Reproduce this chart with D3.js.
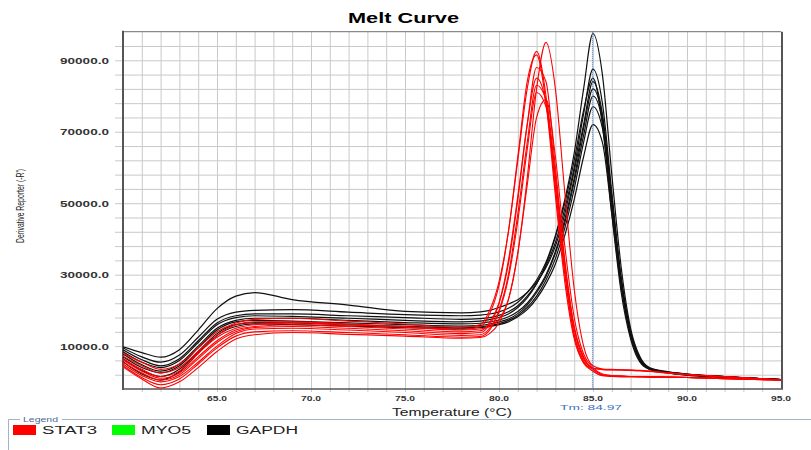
<!DOCTYPE html>
<html>
<head>
<meta charset="utf-8">
<script src="https://cdn.jsdelivr.net/npm/d3@7"></script>
<style>
  body { margin: 0; background: #fff; }
  text { font-family: "Liberation Sans", Arial, sans-serif; }
</style>
</head>
<body>
<svg id="chart" width="811" height="450"></svg>
<script>
// temperatures (°C) shared by every melt curve
const temps = [60, 61, 62, 63, 64, 65, 66, 67, 69, 72, 75, 78, 79, 79.5, 80, 80.5, 81, 81.5, 82, 82.5,
  83, 83.5, 84, 84.5, 85, 85.5, 86, 86.5, 87, 87.5, 88, 89, 90, 92, 95];

// STAT3 wells (-R')
const stat3A = [6500, 3500, 1500, 3000, 8000, 12500, 15000, 16000, 16500, 16000, 15300, 14500, 14800, 15500, 17500, 23000, 36000, 57000, 82000, 95000,
  82000, 53000, 26000, 10000, 4500, 3600, 3500, 3400, 3300, 3200, 3000, 2500, 2100, 1500, 600];
const stat3B = [8000, 5500, 3500, 5000, 9500, 14000, 16500, 17500, 17800, 17000, 16200, 15200, 16000, 20000, 28000, 42000, 62000, 82000, 92500, 80000,
  54000, 30000, 13000, 5500, 3500, 2000, 1700, 1600, 1500, 1500, 1500, 1400, 1300, 1000, 500];
const stat3C = [7200, 4500, 2500, 4000, 8500, 13000, 16000, 16800, 16800, 16200, 15500, 14600, 15400, 19000, 27000, 42000, 63000, 84000, 91500, 78000,
  52000, 28000, 12000, 5200, 3000, 1800, 1600, 1500, 1500, 1400, 1400, 1300, 1200, 1000, 500];
const stat3D = [6100, 3000, 1000, 2500, 7000, 11500, 14500, 15500, 16000, 15500, 14800, 14000, 14300, 16500, 22000, 33000, 51000, 72000, 88000, 84000,
  60000, 34000, 15000, 6500, 3800, 3400, 3300, 3300, 3200, 3100, 3000, 2500, 2000, 1400, 500];
const stat3E = [5500, 2500, 500, 2000, 6500, 11000, 14000, 15200, 15500, 15000, 14300, 13500, 13800, 16000, 22000, 34000, 52000, 72000, 85000, 78000,
  55000, 31000, 13500, 5800, 3000, 1700, 1500, 1400, 1400, 1400, 1300, 1300, 1200, 900, 500];
const stat3F = [5000, 1800, 0, 1500, 5500, 10000, 13500, 14800, 15000, 14500, 13800, 13000, 13200, 15000, 20000, 30000, 47000, 67000, 83000, 79000,
  58000, 33000, 15000, 6500, 3500, 2000, 1700, 1600, 1500, 1500, 1400, 1300, 1200, 900, 500];
const stat3G = [4500, 1200, -800, 800, 5000, 9500, 12800, 14000, 14300, 13800, 13200, 12500, 12700, 14500, 19500, 29000, 45000, 65000, 81000, 77000,
  57000, 33000, 15500, 7000, 3800, 3500, 3400, 3300, 3200, 3100, 2900, 2400, 2000, 1400, 500];
const stat3H = [4200, 800, -1700, 0, 4000, 8500, 12000, 13200, 13800, 13300, 12800, 12200, 12400, 13500, 16500, 23000, 36000, 55000, 74000, 79000,
  63000, 38000, 18000, 7800, 4000, 2200, 1800, 1600, 1500, 1500, 1400, 1300, 1200, 900, 500];

// GAPDH wells (-R')
const gapdhA = [9800, 8200, 6900, 9000, 14500, 20500, 24000, 25000, 23000, 21500, 19700, 19300, 19600, 20000, 20800, 21800, 23000, 25000, 28000, 32000,
  38000, 47000, 59000, 72000, 84000, 75000, 52000, 29000, 14000, 6500, 3800, 2700, 2200, 1500, 600];
const gapdhB = [9500, 7000, 5500, 7500, 12500, 17500, 19500, 20000, 20200, 19500, 18800, 18500, 18700, 19000, 19600, 20600, 22300, 25000, 28500, 33500,
  41000, 51000, 64000, 82000, 97500, 86000, 58000, 32000, 15000, 7000, 4000, 2800, 2200, 1500, 600];
const gapdhC = [9000, 6200, 4500, 6500, 11500, 16500, 18500, 19000, 19000, 18500, 18000, 17500, 17700, 18000, 18600, 19600, 21300, 24000, 27500, 32500,
  39000, 48500, 60000, 75000, 87500, 78000, 53000, 29000, 14000, 6500, 3800, 2700, 2100, 1400, 600];
const gapdhD = [8400, 5500, 4000, 6000, 11000, 16000, 18000, 18500, 18300, 17800, 17200, 16800, 17000, 17400, 18000, 19000, 20800, 23500, 27500, 33000,
  40500, 50000, 62000, 76000, 85000, 72000, 47000, 25000, 12000, 5500, 3500, 2600, 2000, 1400, 600];
const gapdhE = [7800, 4800, 3000, 5000, 10000, 15000, 17200, 17800, 17800, 17200, 16600, 16200, 16400, 16800, 17300, 18200, 19700, 22000, 25500, 30000,
  36500, 45500, 57000, 71000, 82000, 74000, 51000, 28000, 13500, 6200, 3700, 2600, 2000, 1400, 600];
const gapdhF = [7000, 4000, 2500, 4500, 9500, 14500, 16800, 17200, 17000, 16500, 16000, 15600, 15800, 16200, 16800, 17600, 19100, 21500, 25000, 29500,
  36000, 44500, 56000, 69000, 80000, 73000, 50000, 28000, 13500, 6300, 3700, 2600, 2000, 1400, 600];
const gapdhG = [6500, 3200, 1500, 3500, 8500, 13500, 16000, 16600, 16500, 16000, 15500, 15200, 15400, 15800, 16300, 17200, 18600, 20800, 24000, 28500,
  34500, 43000, 54000, 67000, 77000, 71000, 49000, 27500, 13000, 6000, 3600, 2500, 1900, 1300, 600];
const gapdhH = [5600, 2200, 500, 2800, 8000, 13000, 15500, 16200, 16000, 15600, 15200, 15000, 15200, 15500, 16000, 16800, 18200, 20200, 23300, 27500,
  33000, 41000, 51000, 63000, 72000, 67000, 47000, 26500, 12800, 6000, 3600, 2500, 1900, 1300, 600];

const stat3Curves = [stat3A, stat3B, stat3C, stat3D, stat3E, stat3F, stat3G, stat3H];
const gapdhCurves = [gapdhA, gapdhB, gapdhC, gapdhD, gapdhE, gapdhF, gapdhG, gapdhH];

const xLabelTicks = [65, 70, 75, 80, 85, 90, 95];
const yLabelTicks = [10000, 30000, 50000, 70000, 90000];
const tm = 84.97;
const legendNames = ['STAT3', 'MYO5', 'GAPDH'];
const legendColors = ['#ff0000', '#00ff00', '#000000'];

const svg = d3.select('#chart');
const plotLeft = 123, plotRight = 781, plotTop = 31.7, plotBottom = 389;

const x = d3.scaleLinear().domain([60, 95]).range([plotLeft, plotRight]);
const y = d3.scaleLinear().domain([-2000, 98000]).range([plotBottom, plotTop]);

// title
svg.append('text')
  .attr('x', 348).attr('y', 23)
  .attr('font-size', 15).attr('font-weight', 'bold')
  .attr('textLength', 111).attr('lengthAdjust', 'spacingAndGlyphs')
  .attr('fill', '#000')
  .text('Melt Curve');

// vertical grid, one line per degree, ticks poke below the axis
const xGrid = svg.append('g')
  .attr('transform', `translate(0,${plotBottom})`)
  .call(d3.axisBottom(x).tickValues(d3.range(61, 95)).tickSizeOuter(0).tickFormat(''));
xGrid.select('.domain').remove();
xGrid.selectAll('line').attr('stroke', '#c9c9c9').attr('y1', 3).attr('y2', -(plotBottom - plotTop));

// horizontal grid every 4000, ticks poke left of the axis
const yGrid = svg.append('g')
  .attr('transform', `translate(${plotRight},0)`)
  .call(d3.axisLeft(y).tickValues(d3.range(2000, 98000, 4000)).tickSize(plotRight - plotLeft + 8).tickSizeOuter(0).tickFormat(''));
yGrid.select('.domain').remove();
yGrid.selectAll('line').attr('stroke', '#c9c9c9');

// frame
svg.append('line').attr('x1', plotLeft).attr('x2', plotRight).attr('y1', plotTop).attr('y2', plotTop)
  .attr('stroke', '#8a8a8a').attr('stroke-width', 1.2);
svg.append('line').attr('x1', plotRight + 1).attr('x2', plotRight + 1).attr('y1', plotTop).attr('y2', plotBottom)
  .attr('stroke', '#555').attr('stroke-width', 2);
svg.append('line').attr('x1', plotLeft).attr('x2', plotRight + 2).attr('y1', plotBottom).attr('y2', plotBottom)
  .attr('stroke', '#555').attr('stroke-width', 1.5);
svg.append('line').attr('x1', plotLeft).attr('x2', plotLeft).attr('y1', plotTop - 1).attr('y2', plotBottom + 1)
  .attr('stroke', '#555').attr('stroke-width', 2);

// tick labels
svg.append('g').selectAll('text')
  .data(yLabelTicks)
  .join('text')
  .attr('x', 60).attr('y', d => y(d) + 3.5)
  .attr('font-size', 8.5).attr('font-weight', 'bold').attr('fill', '#333')
  .attr('textLength', 49).attr('lengthAdjust', 'spacingAndGlyphs')
  .text(d => d3.format('.1f')(d));

svg.append('g').selectAll('text')
  .data(xLabelTicks)
  .join('text')
  .attr('x', d => x(d)).attr('y', 401)
  .attr('text-anchor', 'middle')
  .attr('font-size', 7.5).attr('font-weight', 'bold').attr('fill', '#333')
  .attr('textLength', 20).attr('lengthAdjust', 'spacingAndGlyphs')
  .text(d => d3.format('.1f')(d));

// axis titles
svg.append('text')
  .attr('transform', 'translate(24,206) rotate(-90)')
  .attr('text-anchor', 'middle')
  .attr('font-size', 11).attr('fill', '#222')
  .attr('textLength', 74).attr('lengthAdjust', 'spacingAndGlyphs')
  .text("Derivative Reporter (-R')");

svg.append('text')
  .attr('x', 452).attr('y', 416)
  .attr('text-anchor', 'middle')
  .attr('font-size', 10).attr('fill', '#222')
  .attr('textLength', 120).attr('lengthAdjust', 'spacingAndGlyphs')
  .text('Temperature (°C)');

// curves
svg.append('clipPath').attr('id', 'plot-clip')
  .append('rect').attr('x', plotLeft).attr('y', plotTop).attr('width', plotRight - plotLeft).attr('height', plotBottom - plotTop);

const line = d3.line()
  .curve(d3.curveMonotoneX)
  .x((d, i) => x(temps[i]))
  .y(d => y(d));

const curves = svg.append('g').attr('clip-path', 'url(#plot-clip)');

curves.selectAll('.gapdh')
  .data(gapdhCurves)
  .join('path')
  .attr('class', 'gapdh')
  .attr('fill', 'none')
  .attr('stroke', '#111')
  .attr('stroke-width', 1.2)
  .attr('d', line);

curves.selectAll('.stat3')
  .data(stat3Curves)
  .join('path')
  .attr('class', 'stat3')
  .attr('fill', 'none')
  .attr('stroke', '#f00')
  .attr('stroke-width', 1.1)
  .attr('d', line);

// Tm marker
svg.append('line')
  .attr('x1', x(tm)).attr('x2', x(tm))
  .attr('y1', plotTop).attr('y2', plotBottom)
  .attr('stroke', '#2f6fcf').attr('stroke-width', 1)
  .attr('stroke-dasharray', '1,1');

svg.append('text')
  .attr('x', 560).attr('y', 410)
  .attr('font-size', 8).attr('fill', '#3a72c0')
  .attr('textLength', 62).attr('lengthAdjust', 'spacingAndGlyphs')
  .text(`Tm: ${tm}`);

// legend box
const legend = svg.append('g');
legend.append('path')
  .attr('d', 'M20,419.5 H8.5 V450 M62,419.5 H811')
  .attr('fill', 'none')
  .attr('stroke', '#9fb3cf').attr('stroke-width', 1);
legend.append('text')
  .attr('x', 23).attr('y', 422)
  .attr('font-size', 7).attr('fill', '#4d6b96')
  .attr('textLength', 35).attr('lengthAdjust', 'spacingAndGlyphs')
  .text('Legend');

const legendX = [13, 112, 207];
const legendW = [55, 50, 62];
const item = legend.selectAll('.item')
  .data(legendNames)
  .join('g')
  .attr('class', 'item')
  .attr('transform', (d, i) => `translate(${legendX[i]},425)`);
item.append('rect')
  .attr('width', 23).attr('height', 10)
  .attr('fill', (d, i) => legendColors[i]);
item.append('text')
  .attr('x', 29).attr('y', 9)
  .attr('font-size', 10).attr('fill', '#222')
  .attr('textLength', (d, i) => legendW[i]).attr('lengthAdjust', 'spacingAndGlyphs')
  .text(d => d);
</script>
</body>
</html>
